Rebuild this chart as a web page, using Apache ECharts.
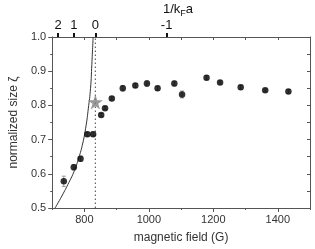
<!DOCTYPE html>
<html><head><meta charset="utf-8">
<script src="https://cdn.jsdelivr.net/npm/echarts@6/dist/echarts.min.js"></script>
<style>html,body{margin:0;padding:0;background:#fff}#c{width:315px;height:249px}</style>
</head><body><div id="c"></div>
<script>
// Data
const fields = [736, 767, 788, 809, 827, 852, 864, 885, 919, 958, 994, 1027, 1079, 1103, 1179, 1221, 1285, 1361, 1433];
const zeta   = [0.578, 0.619, 0.644, 0.716, 0.716, 0.772, 0.792, 0.820, 0.850, 0.858, 0.864, 0.850, 0.864, 0.832, 0.881, 0.867, 0.853, 0.844, 0.841];
const errs   = [0.015, 0.008, 0.008, 0.006, 0.006, 0.005, 0.005, 0.005, 0.008, 0.006, 0.008, 0.006, 0.007, 0.010, 0.006, 0.005, 0.006, 0.004, 0.005];
const starPoint = [834, 0.81];
const curveX = [709, 730, 752, 768, 782, 795, 805, 812, 819, 823, 827];
const curveY = [0.50, 0.535, 0.575, 0.607, 0.645, 0.69, 0.74, 0.79, 0.85, 0.92, 1.0];
const resonance = 834;
const bottomTicks = [800, 1000, 1200, 1400];
const topTickFields = [718, 767, 834, 1055];
const topTickLabels = ['2', '1', '0', '-1'];

const chart = echarts.init(document.getElementById('c'));
const axisCol = '#555';
const txtCol = '#333';
const font = 'Liberation Sans, Arial, sans-serif';
const starPath = 'path://M50,0 L61.8,35.1 L98.9,35.1 L68.8,56.8 L80.2,91.9 L50,70.2 L19.8,91.9 L31.2,56.8 L1.1,35.1 L38.2,35.1 Z';

chart.setOption({
  animation: false,
  grid: {left: 46, right: 5, top: 37, bottom: 39, containLabel: false},
  xAxis: [
    {type: 'value', position: 'bottom', min: 700, max: 1500,
     name: 'magnetic field (G)', nameLocation: 'middle', nameGap: 24,
     nameTextStyle: {color: txtCol, fontSize: 12, fontFamily: font},
     axisLine: {lineStyle: {color: axisCol, width: 1}},
     axisTick: {show: true, inside: false, length: 4, customValues: bottomTicks, lineStyle: {color: axisCol}},
     axisLabel: {color: txtCol, fontSize: 11, fontFamily: font, margin: 6, customValues: bottomTicks,
       formatter: v => String(v)},
     splitLine: {show: false}},
    {type: 'value', position: 'top', min: 700, max: 1500,
     axisLine: {show: true, lineStyle: {color: axisCol, width: 1}},
     axisTick: {show: true, inside: false, length: 4, customValues: topTickFields, lineStyle: {color: '#111', width: 2}},
     axisLabel: {show: true, customValues: topTickFields, color: '#111', fontSize: 13, fontFamily: font, margin: 5,
       formatter: v => topTickLabels[topTickFields.indexOf(v)]},
     splitLine: {show: false}},
    {type: 'value', position: 'top', min: 700, max: 1500, interval: 100,
     axisLine: {show: false},
     axisTick: {show: true, inside: true, length: 3, lineStyle: {color: axisCol}},
     axisLabel: {show: false},
     splitLine: {show: false}},
    {type: 'value', position: 'bottom', min: 700, max: 1500, interval: 100,
     axisLine: {show: false},
     axisTick: {show: true, inside: false, length: 2, lineStyle: {color: axisCol}},
     axisLabel: {show: false},
     splitLine: {show: false}}
  ],
  yAxis: [
    {type: 'value', position: 'left', min: 0.5, max: 1.0, interval: 0.1,
     name: 'normalized size ζ', nameLocation: 'middle', nameGap: 30,
     nameTextStyle: {color: txtCol, fontSize: 12, fontFamily: font},
     axisLine: {show: true, lineStyle: {color: axisCol, width: 1}},
     axisTick: {show: true, inside: false, length: 4, lineStyle: {color: axisCol}},
     minorTick: {show: true, splitNumber: 2, length: 2, lineStyle: {color: axisCol}},
     axisLabel: {color: txtCol, fontSize: 11, fontFamily: font, margin: 6, formatter: v => v.toFixed(1)},
     splitLine: {show: false}},
    {type: 'value', position: 'right', min: 0.5, max: 1.0, interval: 0.05,
     axisLine: {show: true, lineStyle: {color: axisCol, width: 1}},
     axisTick: {show: true, inside: true, length: 3, lineStyle: {color: axisCol}},
     axisLabel: {show: false},
     splitLine: {show: false}}
  ],
  graphic: [{
    type: 'text', left: 163, top: 3,
    style: {text: '{a|1/k}{s|F}{a|a}', rich: {
      a: {fontSize: 13, fill: '#111', fontFamily: font},
      s: {fontSize: 9, fill: '#111', fontFamily: font, padding: [8, 0, 0, 0]}
    }}
  }],
  series: [
    {type: 'line', data: [[resonance, 0.5], [resonance, 1.0]], symbol: 'none',
     lineStyle: {color: '#666', width: 1.2, type: [1.5, 2.5]}, z: 1},
    {type: 'line', data: curveX.map((x, i) => [x, curveY[i]]), symbol: 'none', smooth: true, clip: true,
     lineStyle: {color: '#333', width: 1}, z: 2},
    {type: 'custom', data: fields.map((x, i) => [x, zeta[i], errs[i]]),
     renderItem: (params, api) => {
       const x = api.value(0), y = api.value(1), e = api.value(2);
       const p1 = api.coord([x, y - e]), p2 = api.coord([x, y + e]);
       return {type: 'group', children: [
         {type: 'line', shape: {x1: p1[0], y1: p1[1], x2: p2[0], y2: p2[1]}, style: {stroke: '#999', lineWidth: 1}},
         {type: 'line', shape: {x1: p1[0] - 2, y1: p1[1], x2: p1[0] + 2, y2: p1[1]}, style: {stroke: '#999', lineWidth: 1}},
         {type: 'line', shape: {x1: p2[0] - 2, y1: p2[1], x2: p2[0] + 2, y2: p2[1]}, style: {stroke: '#999', lineWidth: 1}}
       ]};
     }, z: 3},
    {type: 'scatter', data: fields.map((x, i) => [x, zeta[i]]), symbol: 'circle', symbolSize: 6.5,
     itemStyle: {color: '#000'}, z: 4},
    {type: 'scatter', data: [starPoint], symbol: starPath, symbolSize: 15,
     itemStyle: {color: '#808080'}, z: 5}
  ]
});
</script></body></html>
